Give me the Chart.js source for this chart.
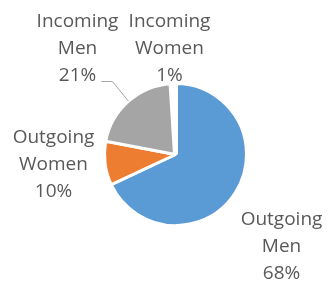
<!DOCTYPE html>
<html>
<head>
<meta charset="utf-8">
<script src="https://cdn.jsdelivr.net/npm/chart.js@4"></script>
<style>
  html, body { margin: 0; padding: 0; background: #fff; }
  #wrap { width: 328px; height: 285px; }
</style>
</head>
<body>
<div id="wrap"><canvas id="pieChart" width="328" height="285"></canvas></div>
<script>
// data
const categories = ['Outgoing Men', 'Outgoing Women', 'Incoming Men', 'Incoming Women'];
const shares = [68, 10, 21, 1];
const percentLabels = ['68%', '10%', '21%', '1%'];
const sliceColors = ['#5B9BD5', '#ED7D31', '#A5A5A5', '#FFC000'];

// label placement: first baseline offset from pie centre (px)
const labelOffsets = [
    { dx: 106, dy: 70 },
    { dx: -122, dy: -12 },
    { dx: -98, dy: -128 },
    { dx: -6, dy: -128 }
];
const leaderElbow = [null, null, { dx: -63, dy: -73 }, null];

const LINE_H = 27;

const pieLabels = {
    id: 'pieLabels',
    afterDraw(chart) {
        const ctx = chart.ctx;
        const arcs = chart.getDatasetMeta(0).data;
        ctx.save();
        ctx.font = '19px "Open Sans", sans-serif';
        ctx.fillStyle = '#595959';
        ctx.textAlign = 'center';
        ctx.textBaseline = 'alphabetic';
        arcs.forEach((arc, i) => {
            const cx = arc.x, cy = arc.y;
            const lines = categories[i].split(' ').concat(percentLabels[i]);
            const lx = cx + labelOffsets[i].dx;
            const ly = cy + labelOffsets[i].dy;
            lines.forEach((t, k) => {
                ctx.fillText(t, lx, ly + k * LINE_H);
            });

            // leader line from slice edge
            if (leaderElbow[i]) {
                const mid = (arc.startAngle + arc.endAngle) / 2;
                const px = cx + Math.cos(mid) * arc.outerRadius;
                const py = cy + Math.sin(mid) * arc.outerRadius;
                const ex = cx + leaderElbow[i].dx;
                const ey = cy + leaderElbow[i].dy;
                ctx.strokeStyle = '#A6A6A6';
                ctx.lineWidth = 1;
                ctx.beginPath();
                ctx.moveTo(px, py);
                ctx.lineTo(ex, ey);
                ctx.lineTo(ex - 11, ey);
                ctx.stroke();
            }
        });
        ctx.restore();
    }
};

const chart = new Chart(document.getElementById('pieChart'), {
    type: 'pie',
    data: {
        labels: categories,
        datasets: [{
            data: shares,
            backgroundColor: sliceColors,
            borderColor: '#FFFFFF',
            borderWidth: [3, 3, 3, 5]
        }]
    },
    options: {
        responsive: false,
        animation: false,
        layout: { padding: { left: 102, right: 79, top: 81, bottom: 57 } },
        plugins: {
            legend: { display: false },
            tooltip: { enabled: false }
        }
    },
    plugins: [pieLabels]
});
</script>
</body>
</html>
